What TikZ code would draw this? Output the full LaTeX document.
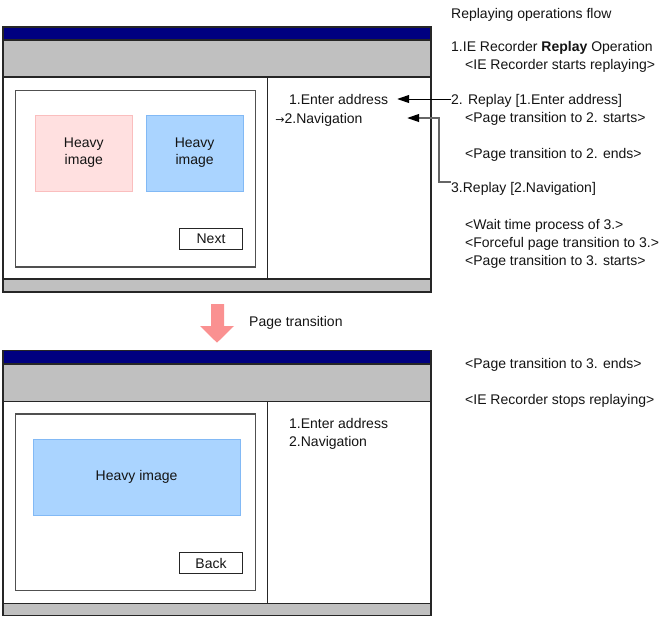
\documentclass[tikz,border=0pt]{standalone}
\usepackage{fontspec}
\setmainfont{Liberation Sans}
\newfontfamily\arrowfont{DejaVu Sans}
\usetikzlibrary{calc,arrows.meta}
\definecolor{navybar}{RGB}{0,0,128}
\definecolor{toolgray}{RGB}{192,192,192}
\definecolor{framegray}{RGB}{80,80,80}
\definecolor{pinkfill}{RGB}{255,224,224}
\definecolor{pinkline}{RGB}{250,190,190}
\definecolor{bluefill}{RGB}{170,212,255}
\definecolor{blueline}{RGB}{130,185,245}
\definecolor{arrowpink}{RGB}{250,145,145}
\definecolor{txtcol}{RGB}{20,20,20}
\tikzset{
  txt/.style={anchor=base west, inner sep=0pt, text=txtcol, font=\fontsize{14}{17}\selectfont},
  winline/.style={draw=black!85, line width=1.2pt},
  innerframe/.style={draw=framegray, line width=1.3pt, fill=white},
  btn/.style={draw=black!85, line width=1.1pt, fill=white, inner sep=0pt, text=txtcol, font=\fontsize{14}{17}\selectfont},
  imgpink/.style={draw=pinkline, fill=pinkfill, line width=1pt},
  imgblue/.style={draw=blueline, fill=bluefill, line width=1pt},
  conn/.style={draw=black, line width=1pt, -{Triangle[length=12pt,width=8pt,black]}},
  conngray/.style={draw=black!60, line width=1.2pt, -{Triangle[length=12pt,width=8pt,black]}},
}
\begin{document}
\begin{tikzpicture}[x=1pt,y=-1pt]
\useasboundingbox (0,0) rectangle (665,619);
% ---------- top window ----------
\fill[white] (3,27) rectangle (431,292);
\fill[navybar] (3,27) rectangle (431,40);
\fill[toolgray] (3,40) rectangle (431,77);
\fill[toolgray] (3,279) rectangle (431,292);
\draw[winline] (3,40) -- (431,40);
\draw[winline] (3,77) -- (431,77);
\draw[winline] (3,279) -- (431,279);
\draw[winline] (267.7,77) -- (267.7,279);
\draw[winline] (3,27) rectangle (431,292);
\draw[innerframe] (15.7,90.3) rectangle (255.3,267);
\draw[imgpink] (35.7,115.3) rectangle (132,191.7);
\draw[imgblue] (146.3,115.3) rectangle (243,191.7);
\node[inner sep=0pt, align=center, text=txtcol, font=\fontsize{14}{17}\selectfont] (hp) at (83.8,153) {Heavy\\image};
\node[inner sep=0pt, align=center, text=txtcol, font=\fontsize{14}{17}\selectfont] (hb) at (194.6,153) {Heavy\\image};
\node[btn, minimum width=63.4pt, minimum height=20.6pt] (next) at (211,239) {Next};
\node[txt] (e1) at (289,104) {1.Enter address};
\node[txt] (nav) at (275.2,123) {{\arrowfont\fontsize{11}{17}\selectfont →}2.Navigation};
% ---------- transition arrow ----------
\fill[arrowpink] (211,304) -- (224,304) -- (224,326) -- (234,326) -- (217,342.7) -- (200,326) -- (211,326) -- cycle;
\node[txt] (pt) at (249,326) {Page transition};
% ---------- bottom window ----------
\fill[white] (3,350.7) rectangle (431,615.5);
\fill[navybar] (3,350.7) rectangle (431,364);
\fill[toolgray] (3,364) rectangle (431,401.5);
\fill[toolgray] (3,603.3) rectangle (431,615.5);
\draw[winline] (3,364) -- (431,364);
\draw[winline] (3,401.5) -- (431,401.5);
\draw[winline] (3,603.3) -- (431,603.3);
\draw[winline] (267.7,401.5) -- (267.7,603.3);
\draw[winline] (3,350.7) rectangle (431,615.5);
\draw[innerframe] (15.7,414) rectangle (255.3,590.7);
\draw[imgblue] (33.3,439.3) rectangle (240,515.3);
\node[inner sep=0pt, text=txtcol, font=\fontsize{14}{17}\selectfont] (hb2) at (136.6,477) {Heavy image};
\node[btn, minimum width=63.4pt, minimum height=20.6pt] (back) at (211,563) {Back};
\node[txt] (e1b) at (289,428) {1.Enter address};
\node[txt] (navb) at (289,446) {2.Navigation};
% ---------- flow text ----------
\node[txt] (title) at (451,18) {Replaying operations flow};
\node[txt] (r1) at (451,51) {1.IE Recorder \textbf{Replay} Operation};
\node[txt] (s1) at (465,69) {<IE Recorder starts replaying>};
\node[txt] (r2) at (451,104) {2. Replay [1.Enter address]};
\node[txt] (s2) at (465,122) {<Page transition to 2. starts>};
\node[txt] (s3) at (465,158) {<Page transition to 2. ends>};
\node[txt] (r3) at (451,192) {3.Replay [2.Navigation]};
\node[txt] (s4) at (465,229) {<Wait time process of 3.>};
\node[txt] (s5) at (465,247) {<Forceful page transition to 3.>};
\node[txt] (s6) at (465,265) {<Page transition to 3. starts>};
\node[txt] (s7) at (465,368) {<Page transition to 3. ends>};
\node[txt] (s8) at (465,404) {<IE Recorder stops replaying>};
% ---------- connectors ----------
\coordinate (tip1) at ($(e1.base east)+(9,-5)$);
\coordinate (tip2) at ($(e1.base east |- nav.base)+(19,-5)$);
\draw[conn] ($(r2.base west)+(0,-5)$) -- (tip1);
\draw[conngray] ($(r3.base west)+(0,-10)$) -- ++(-12,0) |- (tip2);
\end{tikzpicture}
\end{document}
